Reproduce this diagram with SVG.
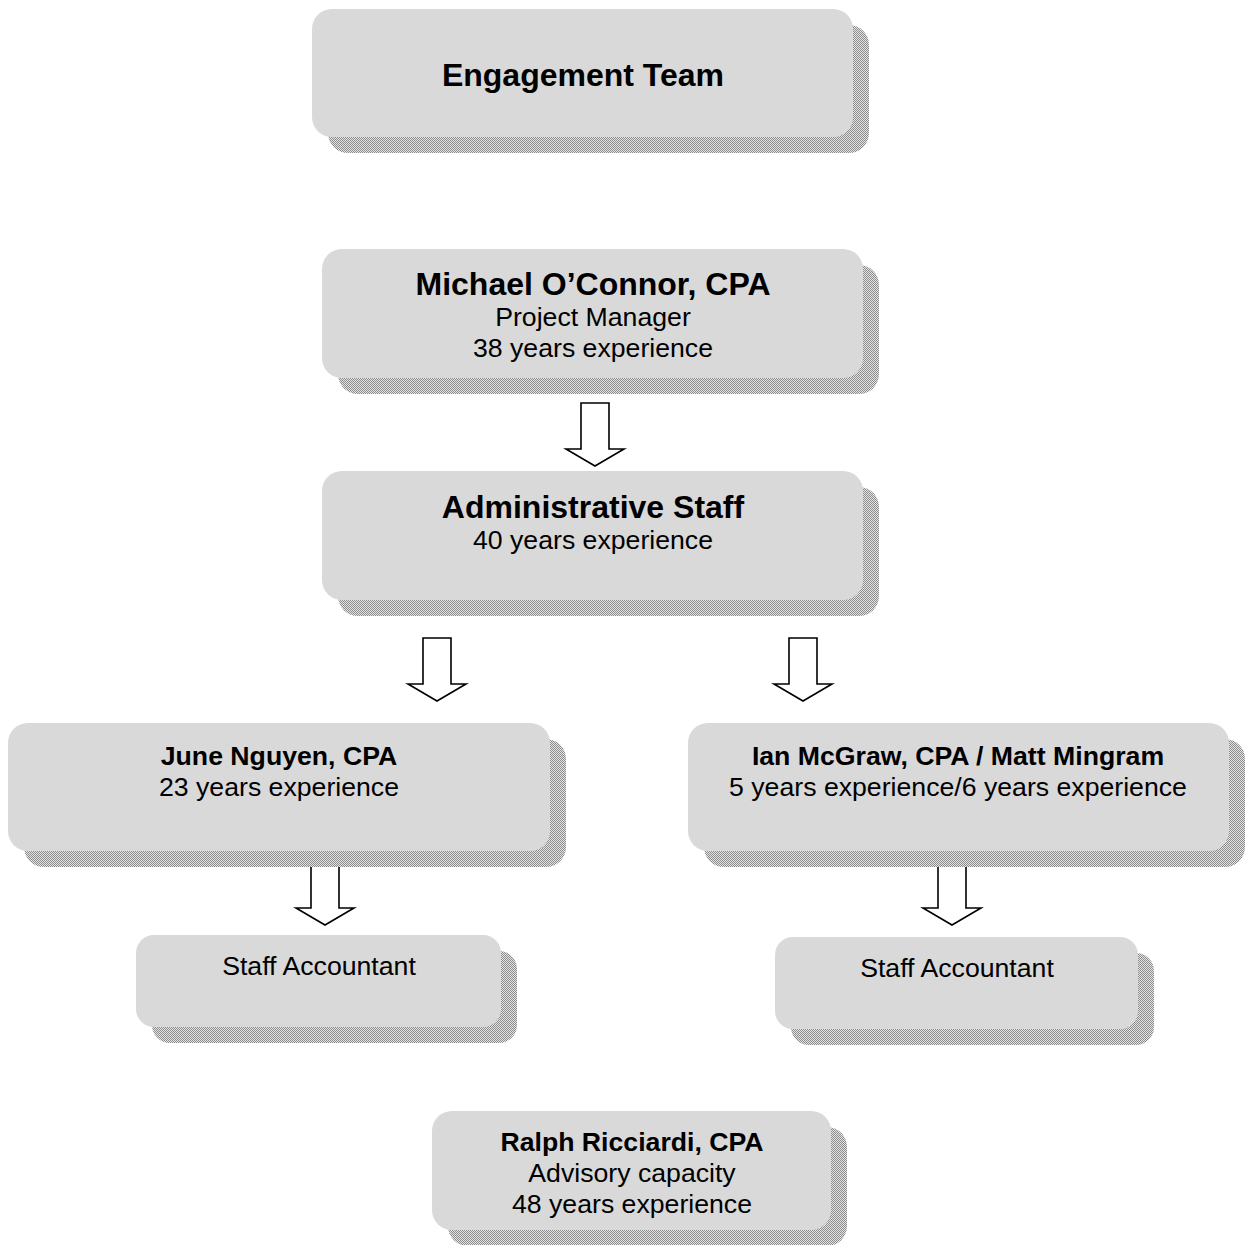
<svg xmlns="http://www.w3.org/2000/svg" xmlns:xlink="http://www.w3.org/1999/xlink" width="1246" height="1245" viewBox="0 0 1246 1245">
<defs>
<pattern id="chk" width="2" height="2" patternUnits="userSpaceOnUse">
<rect width="2" height="2" fill="#e4e4e4"/>
<rect width="1" height="1" fill="#8c8c8c"/>
<rect x="1" y="1" width="1" height="1" fill="#8c8c8c"/>
</pattern>
<polygon id="arr" points="-14,0 14,0 14,46 29,46 0,63 -29,46 -14,46"/>
</defs>
<style>
.sh{fill:url(#chk)}
.bx{fill:#d9d9d9}
.t{font-family:"Liberation Sans",Arial,sans-serif;fill:#000;text-anchor:middle}
.b32{font-size:32px;font-weight:bold}
.b26{font-size:26.67px;font-weight:bold}
.r26{font-size:26.67px}
.ar{fill:#fff;stroke:#000;stroke-width:1.6;stroke-linejoin:miter}
</style>
<rect width="1246" height="1245" fill="#fff"/>
<g id="connectors">
<use xlink:href="#arr" class="ar" transform="translate(595,403)"/>
<use xlink:href="#arr" class="ar" transform="translate(437,638)"/>
<use xlink:href="#arr" class="ar" transform="translate(803,638)"/>
<use xlink:href="#arr" class="ar" transform="translate(325,862)"/>
<use xlink:href="#arr" class="ar" transform="translate(952,862)"/>
</g>
<g id="engagement-team">
<rect class="sh" x="328" y="25" width="541" height="128" rx="20"/>
<rect class="bx" x="312" y="9" width="541" height="128" rx="20"/>
<text class="t b32" x="583" y="86">Engagement Team</text>
</g>
<g id="michael">
<rect class="sh" x="338" y="265" width="541" height="129" rx="20"/>
<rect class="bx" x="322" y="249" width="541" height="129" rx="20"/>
<text class="t b32" x="593" y="295">Michael O’Connor, CPA</text>
<text class="t r26" x="593" y="326">Project Manager</text>
<text class="t r26" x="593" y="357">38 years experience</text>
</g>
<g id="admin">
<rect class="sh" x="338" y="487" width="541" height="129" rx="20"/>
<rect class="bx" x="322" y="471" width="541" height="129" rx="20"/>
<text class="t b32" x="593" y="518">Administrative Staff</text>
<text class="t r26" x="593" y="549">40 years experience</text>
</g>
<g id="june">
<rect class="sh" x="24" y="739" width="542" height="128" rx="20"/>
<rect class="bx" x="8" y="723" width="542" height="128" rx="20"/>
<text class="t b26" x="279" y="765">June Nguyen, CPA</text>
<text class="t r26" x="279" y="796">23 years experience</text>
</g>
<g id="ian">
<rect class="sh" x="704" y="739" width="541" height="128" rx="20"/>
<rect class="bx" x="688" y="723" width="541" height="128" rx="20"/>
<text class="t b26" x="958" y="765">Ian McGraw, CPA / Matt Mingram</text>
<text class="t r26" x="958" y="796">5 years experience/6 years experience</text>
</g>
<g id="staff-left">
<rect class="sh" x="152" y="951" width="365" height="92" rx="18"/>
<rect class="bx" x="136" y="935" width="365" height="92" rx="18"/>
<text class="t r26" x="319" y="975">Staff Accountant</text>
</g>
<g id="staff-right">
<rect class="sh" x="791" y="953" width="363" height="92" rx="18"/>
<rect class="bx" x="775" y="937" width="363" height="92" rx="18"/>
<text class="t r26" x="957" y="977">Staff Accountant</text>
</g>
<g id="ralph">
<rect class="sh" x="448" y="1127" width="399" height="119" rx="20"/>
<rect class="bx" x="432" y="1111" width="399" height="119" rx="20"/>
<text class="t b26" x="632" y="1151">Ralph Ricciardi, CPA</text>
<text class="t r26" x="632" y="1182">Advisory capacity</text>
<text class="t r26" x="632" y="1213">48 years experience</text>
</g>
</svg>
